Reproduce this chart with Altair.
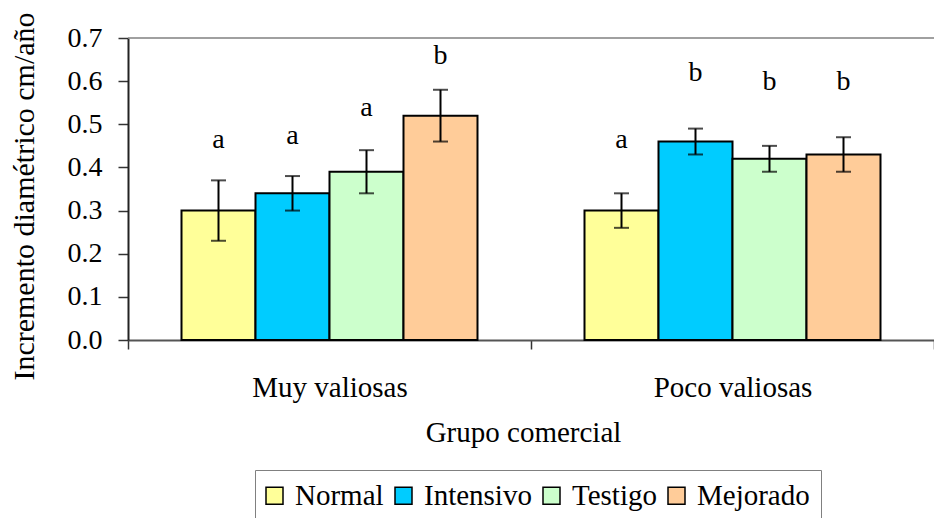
import altair as alt
import pandas as pd

groups = ["Muy valiosas", "Poco valiosas"]
treatments = ["Normal", "Intensivo", "Testigo", "Mejorado"]
colors = ["#FFFF99", "#00CCFF", "#CCFFCC", "#FFCC99"]

means_muy = [0.30, 0.34, 0.39, 0.52]
means_poco = [0.30, 0.46, 0.42, 0.43]
err_muy = [0.07, 0.04, 0.05, 0.06]
err_poco = [0.04, 0.03, 0.03, 0.04]
letters_muy = ["a", "a", "a", "b"]
letters_poco = ["a", "b", "b", "b"]
letter_y_muy = [0.445, 0.455, 0.52, 0.64]
letter_y_poco = [0.445, 0.60, 0.58, 0.58]
y_ticks = [0.0, 0.1, 0.2, 0.3, 0.4, 0.5, 0.6, 0.7]

rows = []
for g, means, errs, lets, lys in [
    (groups[0], means_muy, err_muy, letters_muy, letter_y_muy),
    (groups[1], means_poco, err_poco, letters_poco, letter_y_poco),
]:
    for t, m, e, l, ly in zip(treatments, means, errs, lets, lys):
        rows.append({"grupo": g, "tratamiento": t, "media": m,
                     "lo": m - e, "hi": m + e, "letra": l, "ly": ly})
df = pd.DataFrame(rows)
top_df = pd.DataFrame({"v": [y_ticks[-1]]})

FONT = "Liberation Serif, Times New Roman, serif"
FS = 28

x_enc = alt.X("grupo:N", sort=groups,
              scale=alt.Scale(paddingInner=0, paddingOuter=0),
              axis=alt.Axis(title="Grupo comercial", labelAngle=0,
                            tickBand="extent", tickSize=9, tickWidth=1.5,
                            tickColor="#333333", domainColor="#555555",
                            domainWidth=2, labelPadding=24,
                            labelFont=FONT, labelFontSize=29, labelColor="black",
                            titleFont=FONT, titleFontSize=29, titleFontWeight="normal",
                            titleColor="black", titleX=395, titleY=101.5,
                            titleBaseline="alphabetic", titleAnchor="start",
                            titleAlign="center"))
xo_enc = alt.XOffset("tratamiento:N", sort=treatments,
                     scale=alt.Scale(paddingInner=0, paddingOuter=0.723))
y_scale = alt.Scale(domain=[0, 0.7], nice=False)
y_axis = alt.Axis(title="Incremento diamétrico cm/año", values=y_ticks,
                  format=".1f", grid=False, tickSize=10, tickWidth=1.5,
                  tickColor="#333333", domainColor="#222222", domainWidth=2,
                  labelPadding=16, labelFont=FONT, labelFontSize=FS,
                  labelColor="black", titleFont=FONT, titleFontSize=30,
                  titleFontWeight="normal", titleColor="black",
                  titleAngle=-90, titleX=-104, titleY=158,
                  titleAlign="center", titleBaseline="middle")

base = alt.Chart(df)

bars = base.mark_bar(stroke="black", strokeWidth=2).encode(
    x=x_enc,
    xOffset=xo_enc,
    y=alt.Y("media:Q", scale=y_scale, axis=y_axis),
    color=alt.Color("tratamiento:N",
                    scale=alt.Scale(domain=treatments, range=colors),
                    legend=alt.Legend(title=None, orient="none", legendX=127, legendY=432,
                                      direction="horizontal", columns=4,
                                      symbolType="square", symbolSize=289,
                                      symbolStrokeColor="black", symbolStrokeWidth=1.5,
                                      symbolOpacity=1, symbolOffset=-6,
                                      labelFont=FONT, labelFontSize=29, labelColor="black",
                                      labelLimit=300, columnPadding=8, labelOffset=6,
                                      padding=11, strokeColor="#808080",
                                      fillColor="white")),
)

rules = base.mark_rule(color="black", strokeWidth=2).encode(
    x="grupo:N", xOffset=xo_enc,
    y=alt.Y("lo:Q", scale=y_scale, axis=y_axis), y2="hi:Q",
)
caps_lo = base.mark_tick(color="black", size=15, thickness=2).encode(
    x="grupo:N", xOffset=xo_enc,
    y=alt.Y("lo:Q", scale=y_scale, axis=y_axis),
)
caps_hi = base.mark_tick(color="black", size=15, thickness=2).encode(
    x="grupo:N", xOffset=xo_enc,
    y=alt.Y("hi:Q", scale=y_scale, axis=y_axis),
)
letters = base.mark_text(font=FONT, fontSize=FS, color="black",
                         baseline="alphabetic", align="center").encode(
    x="grupo:N", xOffset=xo_enc,
    y=alt.Y("ly:Q", scale=y_scale, axis=y_axis),
    text="letra:N",
)
top_line = alt.Chart(top_df).mark_rule(color="#808080", strokeWidth=1.5).encode(
    y=alt.Y("v:Q", scale=y_scale, axis=y_axis)
)

chart = alt.layer(bars, top_line, rules, caps_lo, caps_hi, letters).properties(
    width=806, height=302,
    autosize=alt.AutoSizeParams(type="none"),
    padding={"left": 128, "top": 38, "right": 0, "bottom": 178},
    background="white",
).configure_view(stroke=None)

chart.save("out.html", embed_options={"renderer": "svg", "actions": False})
